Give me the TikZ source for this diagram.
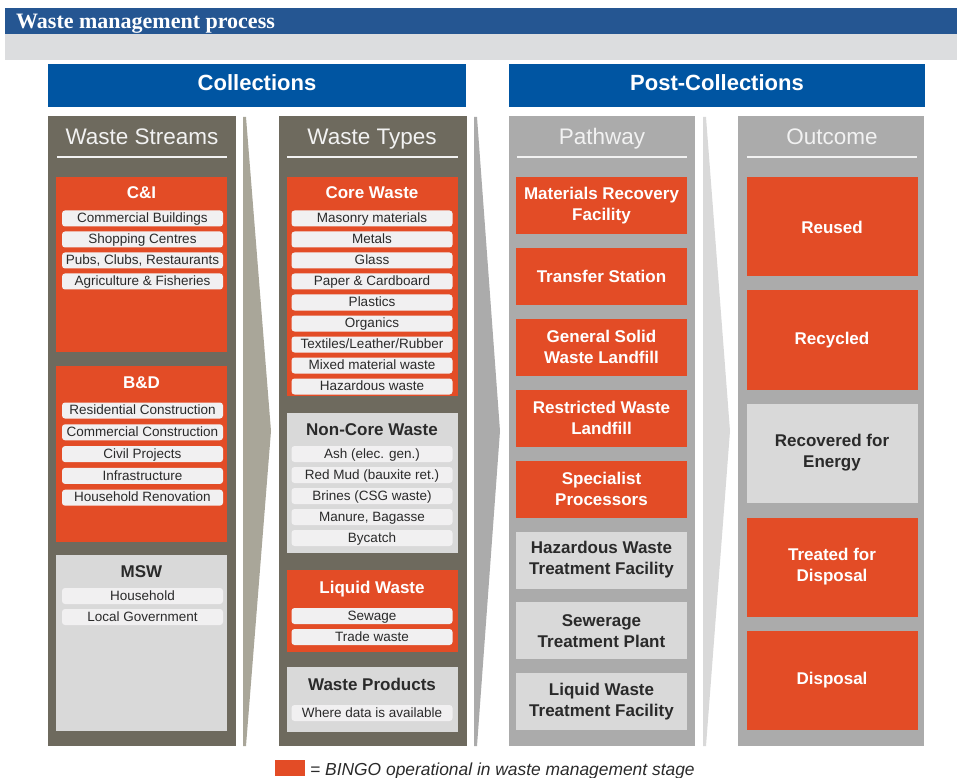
\documentclass[tikz,border=0pt]{standalone}
\usepackage{fontspec}
\setmainfont{Liberation Serif}
\setsansfont{Liberation Sans}
\usepackage{tikz}
\usetikzlibrary{positioning}
\definecolor{bingo}{HTML}{E34C26}
\definecolor{coldark}{HTML}{6E6A5E}
\definecolor{colgray}{HTML}{ABABAB}
\definecolor{boxgray}{HTML}{D9D9D9}
\definecolor{itemfill}{HTML}{F1F0F1}
\definecolor{itemtext}{HTML}{2A2A2A}
\definecolor{hdtext}{HTML}{F2F2F2}
\definecolor{phaseblue}{HTML}{0055A2}
\definecolor{titleblue}{HTML}{255692}
\definecolor{bandgray}{HTML}{DCDDDF}
\definecolor{chevA}{HTML}{A9A699}
\definecolor{chevB}{HTML}{ABABAB}
\definecolor{chevC}{HTML}{D9D9D9}
\tikzset{
  basebox/.style = {inner sep=0pt, align=center, text centered,
    font=\sffamily},
  phase/.style = {basebox, fill=phaseblue, text=white, minimum height=43pt,
    text height=11pt, text depth=0pt,
    font=\sffamily\bfseries\fontsize{22}{26}\selectfont},% bandeau de phase
  col_d/.style = {basebox, fill=coldark, minimum width=188pt,
    minimum height=630pt},% colonne foncee
  col_g/.style = {basebox, fill=colgray, minimum width=186pt,
    minimum height=630pt},% colonne grise
  col_hd/.style = {basebox, anchor=base, text=hdtext,
    font=\sffamily\fontsize{22.5}{27}\selectfont},% titre de colonne
  hd_line/.style = {hdtext, line width=2pt},
  grp_r/.style = {basebox, fill=bingo, minimum width=171pt},% groupe rouge
  grp_g/.style = {basebox, fill=boxgray, minimum width=171pt},% groupe gris
  grp_tr/.style = {basebox, anchor=base, text=white,
    font=\sffamily\bfseries\fontsize{17}{20}\selectfont},% titre sur rouge
  grp_tg/.style = {grp_tr, text=itemtext},% titre sur gris
  item/.style = {basebox, rounded corners=3pt, fill=itemfill, text=itemtext,
    minimum width=161pt, minimum height=16pt, text height=10.5pt,
    text depth=2.1pt, font=\sffamily\fontsize{13.5}{16}\selectfont},% element
  stage_r/.style = {basebox, fill=bingo, text=white, minimum width=171pt,
    font=\sffamily\bfseries\fontsize{17}{21}\selectfont},% etape rouge
  stage_g/.style = {stage_r, fill=boxgray, text=itemtext}% etape grise
}

\begin{document}
\begin{tikzpicture}[x=1pt, y=-1pt, node distance=4.6pt]
  \useasboundingbox (0,0) rectangle (959,778);
  % title
  \fill[titleblue] (5,8) rectangle (957,34);
  \fill[bandgray] (5,34) rectangle (957,60);
  \node[anchor=base west, inner sep=0pt, text=white,
    font=\rmfamily\bfseries\fontsize{22}{26}\selectfont] (title) at (16,29)
    {Waste management process};
  \node[phase, minimum width=418pt] (coll) at (257,85.5) {Collections};
  \node[phase, minimum width=416pt] (post) at (717,85.5) {Post-Collections};

  % chevrons
  \fill[chevA] (243,117) -- (246,117) -- (271,431) -- (246,746) -- (243,746) -- cycle;
  \fill[chevB] (474,117) -- (477,117) -- (500,431) -- (477,746) -- (474,746) -- cycle;
  \fill[chevC] (703,117) -- (706,117) -- (730,431) -- (706,746) -- (703,746) -- cycle;

  % columns
  \node[col_d] (streams) at (142,431) {};
  \node[col_d] (types) at (373,431) {};
  \node[col_g] (pathway) at (602,431) {};
  \node[col_g] (outcome) at (831,431) {};
  \node[col_hd] (streams_hd) at (142,144.5) {Waste Streams};
  \node[col_hd] (types_hd) at (372,144.5) {Waste Types};
  \node[col_hd] (pathway_hd) at (602,144.5) {Pathway};
  \node[col_hd] (outcome_hd) at (832,144.5) {Outcome};
  \draw[hd_line] (57,157) -- (227,157);
  \draw[hd_line] (287,157) -- (458,157);
  \draw[hd_line] (517,157) -- (687,157);
  \draw[hd_line] (747,157) -- (917,157);

  % waste streams
  \node[grp_r, minimum height=175pt] (ci) at (141.5,264.5) {};
  \node[grp_tr] (ci_t) at (141.5,198.5) {C\&I};
  \node[item] (ci1) at (142.5,218.5) {Commercial Buildings};
  \node[item, below=of ci1] (ci2) {Shopping Centres};
  \node[item, below=of ci2] (ci3) {Pubs, Clubs, Restaurants};
  \node[item, below=of ci3] (ci4) {Agriculture \& Fisheries};

  \node[grp_r, minimum height=176pt] (bd) at (141.5,454) {};
  \node[grp_tr] (bd_t) at (141.5,388.5) {B\&D};
  \node[item] (bd1) at (142.5,410.5) {Residential Construction};
  \node[item, below=5.4pt of bd1] (bd2) {Commercial Construction};
  \node[item, below=5.4pt of bd2] (bd3) {Civil Projects};
  \node[item, below=5.4pt of bd3] (bd4) {Infrastructure};
  \node[item, below=5.4pt of bd4] (bd5) {Household Renovation};

  \node[grp_g, minimum height=176pt] (msw) at (141.5,643) {};
  \node[grp_tg] (msw_t) at (141.5,577.5) {MSW};
  \node[item] (msw1) at (142.5,596) {Household};
  \node[item, below=of msw1] (msw2) {Local Government};

  % waste types
  \node[grp_r, minimum height=219pt] (core) at (372,286.5) {};
  \node[grp_tr] (core_t) at (372,198.5) {Core Waste};
  \node[item] (core1) at (372,218.5) {Masonry materials};
  \node[item, below=of core1] (core2) {Metals};
  \node[item, below=of core2] (core3) {Glass};
  \node[item, below=of core3] (core4) {Paper \& Cardboard};
  \node[item, below=of core4] (core5) {Plastics};
  \node[item, below=of core5] (core6) {Organics};
  \node[item, below=of core6] (core7) {Textiles/Leather/Rubber};
  \node[item, below=of core7] (core8) {Mixed material waste};
  \node[item, below=of core8] (core9) {Hazardous waste};

  \node[grp_g, minimum height=140pt] (noncore) at (372,483) {};
  \node[grp_tg] (noncore_t) at (372,435.5) {Non-Core Waste};
  \node[item] (noncore1) at (372,454) {Ash (elec. gen.)};
  \node[item, below=of noncore1] (noncore2) {Red Mud (bauxite ret.)};
  \node[item, below=of noncore2] (noncore3) {Brines (CSG waste)};
  \node[item, below=of noncore3] (noncore4) {Manure, Bagasse};
  \node[item, below=of noncore4] (noncore5) {Bycatch};

  \node[grp_r, minimum height=82pt] (liquid) at (372,611) {};
  \node[grp_tr] (liquid_t) at (372,593) {Liquid Waste};
  \node[item] (liquid1) at (372,616) {Sewage};
  \node[item, below=of liquid1] (liquid2) {Trade waste};

  \node[grp_g, minimum height=65pt] (products) at (372,699.5) {};
  \node[grp_tg] (products_t) at (372,690.5) {Waste Products};
  \node[item] (products1) at (372,713) {Where data is available};

  % pathway
  \node[stage_r, minimum height=57pt] (mrf) at (601.5,205.5) {Materials Recovery\\Facility};
  \node[stage_r, minimum height=57pt] (transfer) at (601.5,276.4) {Transfer Station};
  \node[stage_r, minimum height=57pt] (gsw) at (601.5,347.3) {General Solid\\Waste Landfill};
  \node[stage_r, minimum height=57pt] (rwl) at (601.5,418.2) {Restricted Waste\\Landfill};
  \node[stage_r, minimum height=57pt] (spec) at (601.5,489.1) {Specialist\\Processors};
  \node[stage_g, minimum height=57pt] (hwtf) at (601.5,560) {Hazardous Waste\\Treatment Facility};
  \node[stage_g, minimum height=57pt] (stp) at (601.5,630.9) {Sewerage\\Treatment Plant};
  \node[stage_g, minimum height=57pt] (lwtf) at (601.5,701.8) {Liquid Waste\\Treatment Facility};

  % outcome
  \node[stage_r, minimum height=99pt] (reused) at (832,227) {Reused};
  \node[stage_r, minimum height=99pt] (recycled) at (832,340) {Recycled};
  \node[stage_g, minimum height=99pt] (energy) at (832,453) {Recovered for\\Energy};
  \node[stage_r, minimum height=99pt] (treated) at (832,567) {Treated for\\Disposal};
  \node[stage_r, minimum height=99pt] (disposal) at (832,680) {Disposal};

  % legend
  \node[basebox, fill=bingo, minimum width=30pt, minimum height=16pt] (key) at (290,768) {};
  \node[anchor=base west, inner sep=0pt, text=itemtext,
    font=\sffamily\itshape\fontsize{17.4}{20}\selectfont] (key_txt) at (310,775)
    {= BINGO operational in waste management stage};
\end{tikzpicture}
\end{document}
